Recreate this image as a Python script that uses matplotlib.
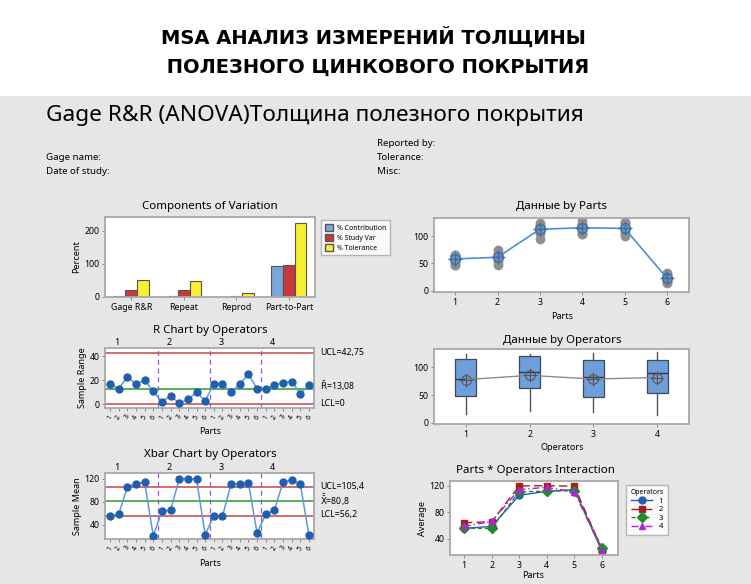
import numpy as np
import matplotlib.pyplot as plt
from matplotlib.patches import Rectangle, Patch
from matplotlib.lines import Line2D

plt.rcParams["font.family"] = ["Noto Sans", "DejaVu Sans"]
plt.rcParams["mathtext.fontset"] = "dejavusans"

# --- данные ---
comp_labels = ["Gage R&R", "Repeat", "Reprod", "Part-to-Part"]
pct_contribution = [3, 3, 0.3, 93]
pct_study_var = [22, 20, 4, 96]
pct_tolerance = [50, 47, 11, 225]

parts = [1, 2, 3, 4, 5, 6]
operators = [1, 2, 3, 4]
# измерения: оператор 1..4, деталь 1..6, два повтора
trial1 = [47, 65, 94, 120, 104, 27,
          63, 69, 119, 118, 124, 22,
          64, 47, 106, 103, 125, 20,
          52, 74, 105, 127, 106, 30]
trial2 = [64, 52, 117, 103, 124, 16,
          65, 62, 120, 122, 114, 25,
          47, 64, 116, 120, 100, 33,
          65, 58, 123, 108, 115, 14]

r_ucl, r_bar, r_lcl = 42.75, 13.08, 0
x_ucl, x_bar, x_lcl = 105.4, 80.8, 56.2

W, H = 751, 584
fig = plt.figure(figsize=(W / 100, H / 100), dpi=100)
fig.patch.set_facecolor("white")
fig.patches.append(Rectangle((0, 0), 1, (H - 96) / H, transform=fig.transFigure,
                             facecolor="#e6e6e6", edgecolor="none", zorder=-10))


def ax_px(l, t, r, b):
    ax = fig.add_axes([l / W, 1 - b / H, (r - l) / W, (b - t) / H])
    ax.set_facecolor("white")
    for s in ax.spines.values():
        s.set_color("#a8a8a8")
        s.set_linewidth(1.3)
    ax.tick_params(labelsize=6.3, length=2.5, width=0.6, color="#777777", pad=1.5)
    return ax


def ftext(x, y, s, **kw):
    fig.text(x / W, 1 - y / H, s, **kw)


# заголовки
title_font = ["Liberation Sans Narrow", "DejaVu Sans"]
ftext(373, 37, "MSA АНАЛИЗ ИЗМЕРЕНИЙ ТОЛЩИНЫ", ha="center", va="center",
      fontsize=14, fontweight="bold", family=title_font)
ftext(375, 67, " ПОЛЕЗНОГО ЦИНКОВОГО ПОКРЫТИЯ", ha="center", va="center",
      fontsize=14, fontweight="bold", family=title_font)
ftext(46, 116, "Gage R&R (ANOVA)Толщина полезного покрытия", ha="left", va="center",
      fontsize=16.3)
for x, y, s in [(377, 143, "Reported by:"), (46, 157, "Gage name:"), (377, 157, "Tolerance:"),
                (46, 171, "Date of study:"), (377, 171, "Misc:")]:
    ftext(x, y, s, ha="left", va="center", fontsize=7)

# --- Components of Variation ---
ax = ax_px(105, 217, 315, 297)
x = np.arange(len(comp_labels))
w = 0.22
cols = ["#7aa6da", "#c9383c", "#f7f030"]
for i, (vals, c) in enumerate(zip([pct_contribution, pct_study_var, pct_tolerance], cols)):
    ax.bar(x + (i - 1) * w, vals, w, color=c, edgecolor="#555555", linewidth=0.8)
ax.set_xlim(-0.5, 3.5)
ax.set_ylim(0, 242)
ax.set_yticks([0, 100, 200])
ax.set_xticks(x)
ax.set_xticklabels(comp_labels)
ax.set_ylabel("Percent", fontsize=6.5, labelpad=2)
ftext(210, 207, "Components of Variation", ha="center", va="center", fontsize=8.3)
handles = [Patch(facecolor=c, edgecolor="#555555", label=l)
           for c, l in zip(cols, ["% Contribution", "% Study Var", "% Tolerance"])]
leg = fig.legend(handles=handles, loc="upper left", bbox_to_anchor=(318 / W, 1 - 217 / H),
                 fontsize=5, frameon=True, fancybox=False, handlelength=1.2, handleheight=1.2,
                 borderpad=0.5, labelspacing=0.3, handletextpad=0.6)
leg.get_frame().set_edgecolor("#a8a8a8")
leg.get_frame().set_linewidth(1.0)

t1 = np.array(trial1).reshape(4, 6)
t2 = np.array(trial2).reshape(4, 6)
xbar = (t1 + t2) / 2
rng = np.abs(t1 - t2)

# --- Данные by Parts ---
ax = ax_px(434, 218, 689, 292)
for j, p in enumerate(parts):
    vals = np.concatenate([t1[:, j], t2[:, j]])
    ax.plot([p] * len(vals), vals, "o", color="#8e8e8e", markersize=6, zorder=2)
part_means = xbar.mean(axis=0)
ax.plot(parts, part_means, "-", color="#4a8fd4", linewidth=1.2, zorder=3)
ax.plot(parts, part_means, "o", markersize=7, markerfacecolor="none",
        markeredgecolor="#2f6fb8", markeredgewidth=1, zorder=4)
ax.plot(parts, part_means, "+", markersize=10, color="#2f6fb8", markeredgewidth=1, zorder=4)
ax.set_xlim(0.5, 6.52)
ax.set_ylim(-2, 133)
ax.set_xticks(parts)
ax.set_yticks([0, 50, 100])
ftext(562, 207, "Данные by Parts", ha="center", va="center", fontsize=8.3)
ftext(562, 316, "Parts", ha="center", va="center", fontsize=6.5)

# --- R Chart / Xbar Chart ---
idx = np.arange(1, 25)
tick_lbls = [str(p) for _ in operators for p in parts]


def control_chart(ax, vals, ucl, cl, lcl, ylim, yticks):
    ax.plot(idx, vals, "-", color="#5b9bd5", linewidth=1.1, zorder=3)
    ax.plot(idx, vals, "o", color="#1f5fae", markersize=5, zorder=4)
    for v, c in [(ucl, "#d05050"), (cl, "#3aa23a"), (lcl, "#d05050")]:
        ax.axhline(v, color=c, linewidth=1.2, zorder=2)
    for k in range(1, 4):
        ax.axvline(6 * k + 0.5, color="#8a5cd6", linestyle=(0, (4, 3)), linewidth=0.9, zorder=2)
    ax.set_xlim(0.42, 24.58)
    ax.set_ylim(*ylim)
    ax.set_yticks(yticks)
    ax.set_xticks(idx)
    ax.set_xticklabels(tick_lbls, rotation=60, fontsize=5)


ax = ax_px(105, 348, 314, 408)
control_chart(ax, rng.flatten(), r_ucl, r_bar, r_lcl, (-3.1, 47), [0, 20, 40])
ax.set_ylabel("Sample Range", fontsize=6.5, labelpad=2)
ftext(210, 330, "R Chart by Operators", ha="center", va="center", fontsize=8.3)
for k, op in enumerate(operators):
    ax.text(6 * k + 1.8, 1.02, str(op), transform=ax.get_xaxis_transform(),
            ha="center", va="bottom", fontsize=6.5)
ftext(320, 352, "UCL=42,75", ha="left", va="center", fontsize=6.3)
ftext(320, 386, r"$\bar{\mathrm{R}}$=13,08", ha="left", va="center", fontsize=6.3)
ftext(320, 404, "LCL=0", ha="left", va="center", fontsize=6.3)
ftext(210, 431, "Parts", ha="center", va="center", fontsize=6.5)

ax = ax_px(105, 473, 314, 539)
control_chart(ax, xbar.flatten(), x_ucl, x_bar, x_lcl, (15.8, 129.8), [40, 80, 120])
ax.set_ylabel("Sample Mean", fontsize=6.5, labelpad=2)
ftext(210, 454, "Xbar Chart by Operators", ha="center", va="center", fontsize=8.3)
for k, op in enumerate(operators):
    ax.text(6 * k + 1.8, 1.02, str(op), transform=ax.get_xaxis_transform(),
            ha="center", va="bottom", fontsize=6.5)
ftext(320, 486, "UCL=105,4", ha="left", va="center", fontsize=6.3)
ftext(320, 500, r"$\bar{\bar{\mathrm{X}}}$=80,8", ha="left", va="center", fontsize=6.3)
ftext(320, 515, "LCL=56,2", ha="left", va="center", fontsize=6.3)
ftext(210, 563, "Parts", ha="center", va="center", fontsize=6.5)

# --- Данные by Operators ---
ax = ax_px(434, 349, 689, 424)
stats = []
for i, op in enumerate(operators):
    d = np.concatenate([t1[i], t2[i]])
    q1, med, q3 = np.percentile(d, [25, 50, 75], method="weibull")
    stats.append(dict(med=med, q1=q1, q3=q3, whislo=d.min(), whishi=d.max(),
                      mean=d.mean(), fliers=[], label=str(op)))
ax.bxp(stats, positions=operators, widths=0.33, patch_artist=True, showcaps=False,
       boxprops=dict(facecolor="#6f9fdb", edgecolor="#3a4a5a", linewidth=0.9),
       medianprops=dict(color="#2a3a4a", linewidth=1),
       whiskerprops=dict(color="#555555", linewidth=1))
op_means = [s["mean"] for s in stats]
ax.plot(operators, op_means, "-", color="#8a8a8a", linewidth=1, zorder=3)
ax.plot(operators, op_means, "o", markersize=7, markerfacecolor="none",
        markeredgecolor="#555555", markeredgewidth=0.8, zorder=4)
ax.plot(operators, op_means, "+", markersize=10, color="#555555", markeredgewidth=0.8, zorder=4)
ax.set_xlim(0.5, 4.5)
ax.set_ylim(-1.8, 132.5)
ax.set_yticks([0, 50, 100])
ax.set_xticks(operators)
ax.set_xticklabels([str(o) for o in operators])
ftext(562, 340, "Данные by Operators", ha="center", va="center", fontsize=8.3)
ftext(562, 448, "Operators", ha="center", va="center", fontsize=6.5)

# --- Parts * Operators Interaction ---
ax = ax_px(450, 481, 618, 555)
styles = [("#1f5fae", "-", "o"), ("#a41e22", (0, (6, 3)), "s"),
          ("#1e8c2a", (0, (3, 2)), "D"), ("#b323d6", (0, (5, 2, 1, 2)), "^")]
handles = []
for i, (c, ls, m) in enumerate(styles):
    ax.plot(parts, xbar[i], color=c, linestyle=ls, marker=m, markersize=5, linewidth=1)
    handles.append(Line2D([], [], color=c, linestyle=ls, marker=m, markersize=5,
                          linewidth=1, label=str(operators[i])))
ax.set_xlim(0.49, 6.58)
ax.set_ylim(15.3, 127)
ax.set_yticks([40, 80, 120])
ax.set_xticks(parts)
ax.set_ylabel("Average", fontsize=6.5, labelpad=2)
ftext(535, 470, "Parts * Operators Interaction", ha="center", va="center", fontsize=8.3)
ftext(533, 576, "Parts", ha="center", va="center", fontsize=6.5)
leg = fig.legend(handles=handles, title="Operators", loc="upper left",
                 bbox_to_anchor=(622 / W, 1 - 481 / H), fontsize=5.5, title_fontsize=5,
                 frameon=True, fancybox=False, handlelength=2.8, labelspacing=0.15,
                 borderpad=0.6, alignment="center")
leg.get_frame().set_edgecolor("#a8a8a8")
leg.get_frame().set_linewidth(1.0)

fig.savefig("out.png", dpi=100)
